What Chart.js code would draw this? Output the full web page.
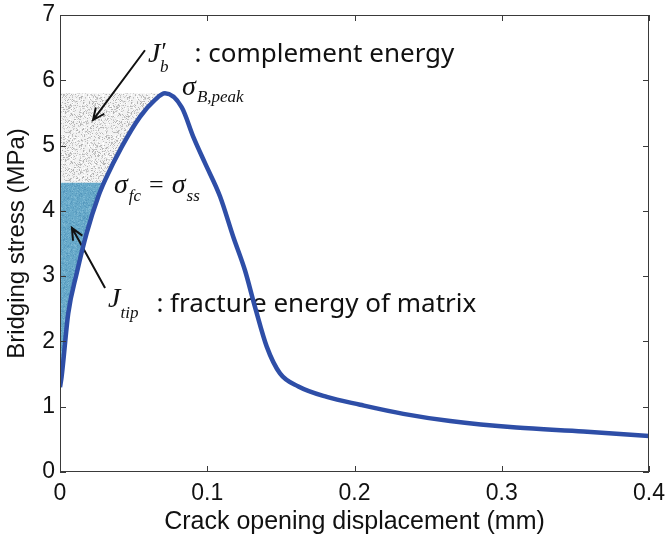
<!DOCTYPE html>
<html>
<head>
<meta charset="utf-8">
<script src="https://cdn.jsdelivr.net/npm/chart.js@4.4.1/dist/chart.umd.min.js"></script>
<style>
  html, body { margin: 0; padding: 0; background: #fff; }
  canvas { display: block; }
</style>
</head>
<body>
<canvas id="bridgingChart" width="667" height="541"></canvas>
<script>
// Bridging curve: crack opening (mm) vs stress (MPa)
const cod = [0, 0.0011, 0.0056, 0.0113, 0.0181, 0.026, 0.0306, 0.0419, 0.0543, 0.0645, 0.0713,
    0.0826, 0.0906, 0.0985, 0.1087, 0.1177, 0.1256, 0.1324, 0.1404, 0.1494, 0.1619,
    0.1812, 0.2038, 0.2332, 0.265, 0.31, 0.3555, 0.4];
const stress = [1.3, 1.46, 2.43, 3.04, 3.66, 4.22, 4.47, 4.98, 5.44, 5.7, 5.8,
    5.59, 5.13, 4.73, 4.22, 3.6, 3.09, 2.53, 1.92, 1.51, 1.31,
    1.15, 1.03, 0.89, 0.78, 0.68, 0.62, 0.55];

// Shaded areas: J_tip up to sigma_fc, J'_b between sigma_fc and the peak
const sigmaFc = 4.43;
const sigmaPeak = 5.8;
const tipCod = [0, 0.0011, 0.0056, 0.0113, 0.0181, 0.026, 0.0292];
const tipStress = [1.3, 1.46, 2.43, 3.04, 3.66, 4.22, 4.43];
const compCod = [0, 0.0292, 0.0306, 0.0419, 0.0543, 0.0645, 0.0713];
const compStress = [4.43, 4.43, 4.47, 4.98, 5.44, 5.7, 5.8];

const xTicks = [0, 0.1, 0.2, 0.3, 0.4];
const yTicks = [0, 1, 2, 3, 4, 5, 6, 7];

const toPoints = (xs, ys) => xs.map((x, i) => ({ x: x, y: ys[i] }));

// stippled fill like the original figure
function speckle(base, dots, count) {
    const c = document.createElement('canvas');
    c.width = c.height = 48;
    const g = c.getContext('2d');
    g.fillStyle = base;
    g.fillRect(0, 0, 48, 48);
    let seed = 12345;
    for (let i = 0; i < count; i++) {
        seed = (seed * 16807) % 2147483647;
        const x = seed % 48;
        seed = (seed * 16807) % 2147483647;
        const y = seed % 48;
        g.fillStyle = dots[i % dots.length];
        g.fillRect(x, y, 1, 1);
    }
    return g.createPattern(c, 'repeat');
}

const grayFill = speckle('#f2f2f2', ['#c2c2c2', '#d4d4d4', '#ffffff', '#b4b4b4'], 1000);
const blueFill = speckle('#67a9c9', ['#5698bd', '#7db8d4', '#5fa1c4', '#72b1cf'], 1300);

const sansFont = 'Liberation Sans, Arial, sans-serif';
const mathFont = 'Liberation Serif, Times New Roman, serif';
const noteFont = 'Noto Sans, Open Sans, sans-serif';

// box round the axes with inward ticks (MATLAB style)
const boxPlugin = {
    id: 'box',
    afterDraw(chart) {
        const { ctx, chartArea: a, scales } = chart;
        ctx.save();
        ctx.strokeStyle = '#3a3a3a';
        ctx.lineWidth = 1;
        ctx.strokeRect(Math.round(a.left) + 0.5, Math.round(a.top) + 0.5,
            Math.round(a.right - a.left) - 1, Math.round(a.bottom - a.top) - 1);
        ctx.beginPath();
        xTicks.forEach(v => {
            const px = Math.round(scales.x.getPixelForValue(v)) + 0.5;
            ctx.moveTo(px, a.bottom); ctx.lineTo(px, a.bottom - 6);
            ctx.moveTo(px, a.top); ctx.lineTo(px, a.top + 6);
        });
        yTicks.forEach(v => {
            const py = Math.round(scales.y.getPixelForValue(v)) + 0.5;
            ctx.moveTo(a.left, py); ctx.lineTo(a.left + 6, py);
            ctx.moveTo(a.right, py); ctx.lineTo(a.right - 6, py);
        });
        ctx.stroke();
        ctx.restore();
    }
};

function arrow(ctx, x1, y1, x2, y2) {
    const ang = Math.atan2(y2 - y1, x2 - x1);
    const len = 13;
    ctx.beginPath();
    ctx.moveTo(x1, y1);
    ctx.lineTo(x2, y2);
    ctx.moveTo(x2 - len * Math.cos(ang - 0.42), y2 - len * Math.sin(ang - 0.42));
    ctx.lineTo(x2, y2);
    ctx.lineTo(x2 - len * Math.cos(ang + 0.42), y2 - len * Math.sin(ang + 0.42));
    ctx.stroke();
}

// pieces of text: [string, font, dx from previous end, dy from baseline]
function writeRun(ctx, x, y, parts) {
    let cx = x;
    parts.forEach(p => {
        ctx.font = p[1];
        cx += p[2];
        ctx.fillText(p[0], cx, y + p[3]);
        cx += ctx.measureText(p[0]).width;
    });
}

// annotations, drawn just before the curve so the curve sits on top
const notesPlugin = {
    id: 'notes',
    beforeDatasetDraw(chart, args) {
        if (args.index !== 0) return;
        const { ctx, scales } = chart;
        const px = v => scales.x.getPixelForValue(v);
        const py = v => scales.y.getPixelForValue(v);
        ctx.save();
        ctx.strokeStyle = '#111';
        ctx.fillStyle = '#111';
        ctx.lineWidth = 2;
        arrow(ctx, px(0.0577), py(6.46), px(0.0224), py(5.39));
        arrow(ctx, px(0.0306), py(2.82), px(0.0081), py(3.74));

        ctx.textBaseline = 'alphabetic';
        const big = 'italic 28px ' + mathFont;
        const sub = 'italic 17px ' + mathFont;
        const note = '26px ' + noteFont;
        writeRun(ctx, px(0.0598), py(6.28), [
            ['J', big, 0, 0], ['\u2032', '25px ' + mathFont, 1, -2], ['b', sub, -7, 10],
            [': complement energy', note, 26, 0]
        ]);
        writeRun(ctx, px(0.0829), py(5.77), [
            ['\u03c3', big, 0, 0], ['B,peak', sub, 1, 7]
        ]);
        writeRun(ctx, px(0.0367), py(4.27), [
            ['\u03c3', big, 0, 0], ['fc', sub, 1, 8], ['=', '26px ' + mathFont, 8, 0],
            ['\u03c3', big, 8, 0], ['ss', sub, 1, 8]
        ]);
        writeRun(ctx, px(0.0326), py(2.53), [
            ['J', big, 0, 0], ['tip', sub, 0, 11], [': fracture energy of matrix', note, 18, 5]
        ]);
        ctx.restore();
    }
};

const ctx = document.getElementById('bridgingChart').getContext('2d');
const chart = new Chart(ctx, {
    type: 'line',
    data: {
        datasets: [
            {
                data: toPoints(cod, stress),
                borderColor: '#2e4ea7',
                borderWidth: 4.5,
                pointRadius: 0,
                cubicInterpolationMode: 'monotone',
                fill: false,
                order: 0
            },
            {
                data: toPoints(tipCod, tipStress),
                borderWidth: 0,
                pointRadius: 0,
                cubicInterpolationMode: 'monotone',
                backgroundColor: blueFill,
                fill: { value: sigmaFc },
                order: 1
            },
            {
                data: toPoints(compCod, compStress),
                borderWidth: 0,
                pointRadius: 0,
                backgroundColor: grayFill,
                fill: { value: sigmaPeak },
                order: 2
            }
        ]
    },
    options: {
        responsive: false,
        animation: false,
        layout: { padding: { top: 15, right: 18, left: 0, bottom: 0 } },
        plugins: {
            legend: { display: false },
            tooltip: { enabled: false }
        },
        scales: {
            x: {
                type: 'linear',
                min: 0,
                max: 0.4,
                afterBuildTicks: s => { s.ticks = xTicks.map(v => ({ value: v })); },
                afterFit: s => { s.height = 69; s.paddingLeft = 0; s.paddingRight = 0; },
                grid: { display: false, drawTicks: false },
                border: { display: false },
                ticks: {
                    color: '#111',
                    padding: 8,
                    maxRotation: 0,
                    font: { family: sansFont, size: 23 },
                    callback: v => String(v)
                },
                title: {
                    display: true,
                    text: 'Crack opening displacement (mm)',
                    color: '#111',
                    font: { family: sansFont, size: 25 },
                    padding: { top: 0, bottom: 4 }
                }
            },
            y: {
                type: 'linear',
                min: 0,
                max: 7,
                afterBuildTicks: s => { s.ticks = yTicks.map(v => ({ value: v })); },
                afterFit: s => { s.width = 60; s.paddingTop = 0; s.paddingBottom = 0; },
                grid: { display: false, drawTicks: false },
                border: { display: false },
                ticks: {
                    color: '#111',
                    padding: 5,
                    font: { family: sansFont, size: 23 },
                    callback: v => String(v)
                },
                title: {
                    display: true,
                    text: 'Bridging stress (MPa)',
                    color: '#111',
                    font: { family: sansFont, size: 24 },
                    padding: { top: 3, bottom: 0 }
                }
            }
        }
    },
    plugins: [boxPlugin, notesPlugin]
});
</script>
</body>
</html>
